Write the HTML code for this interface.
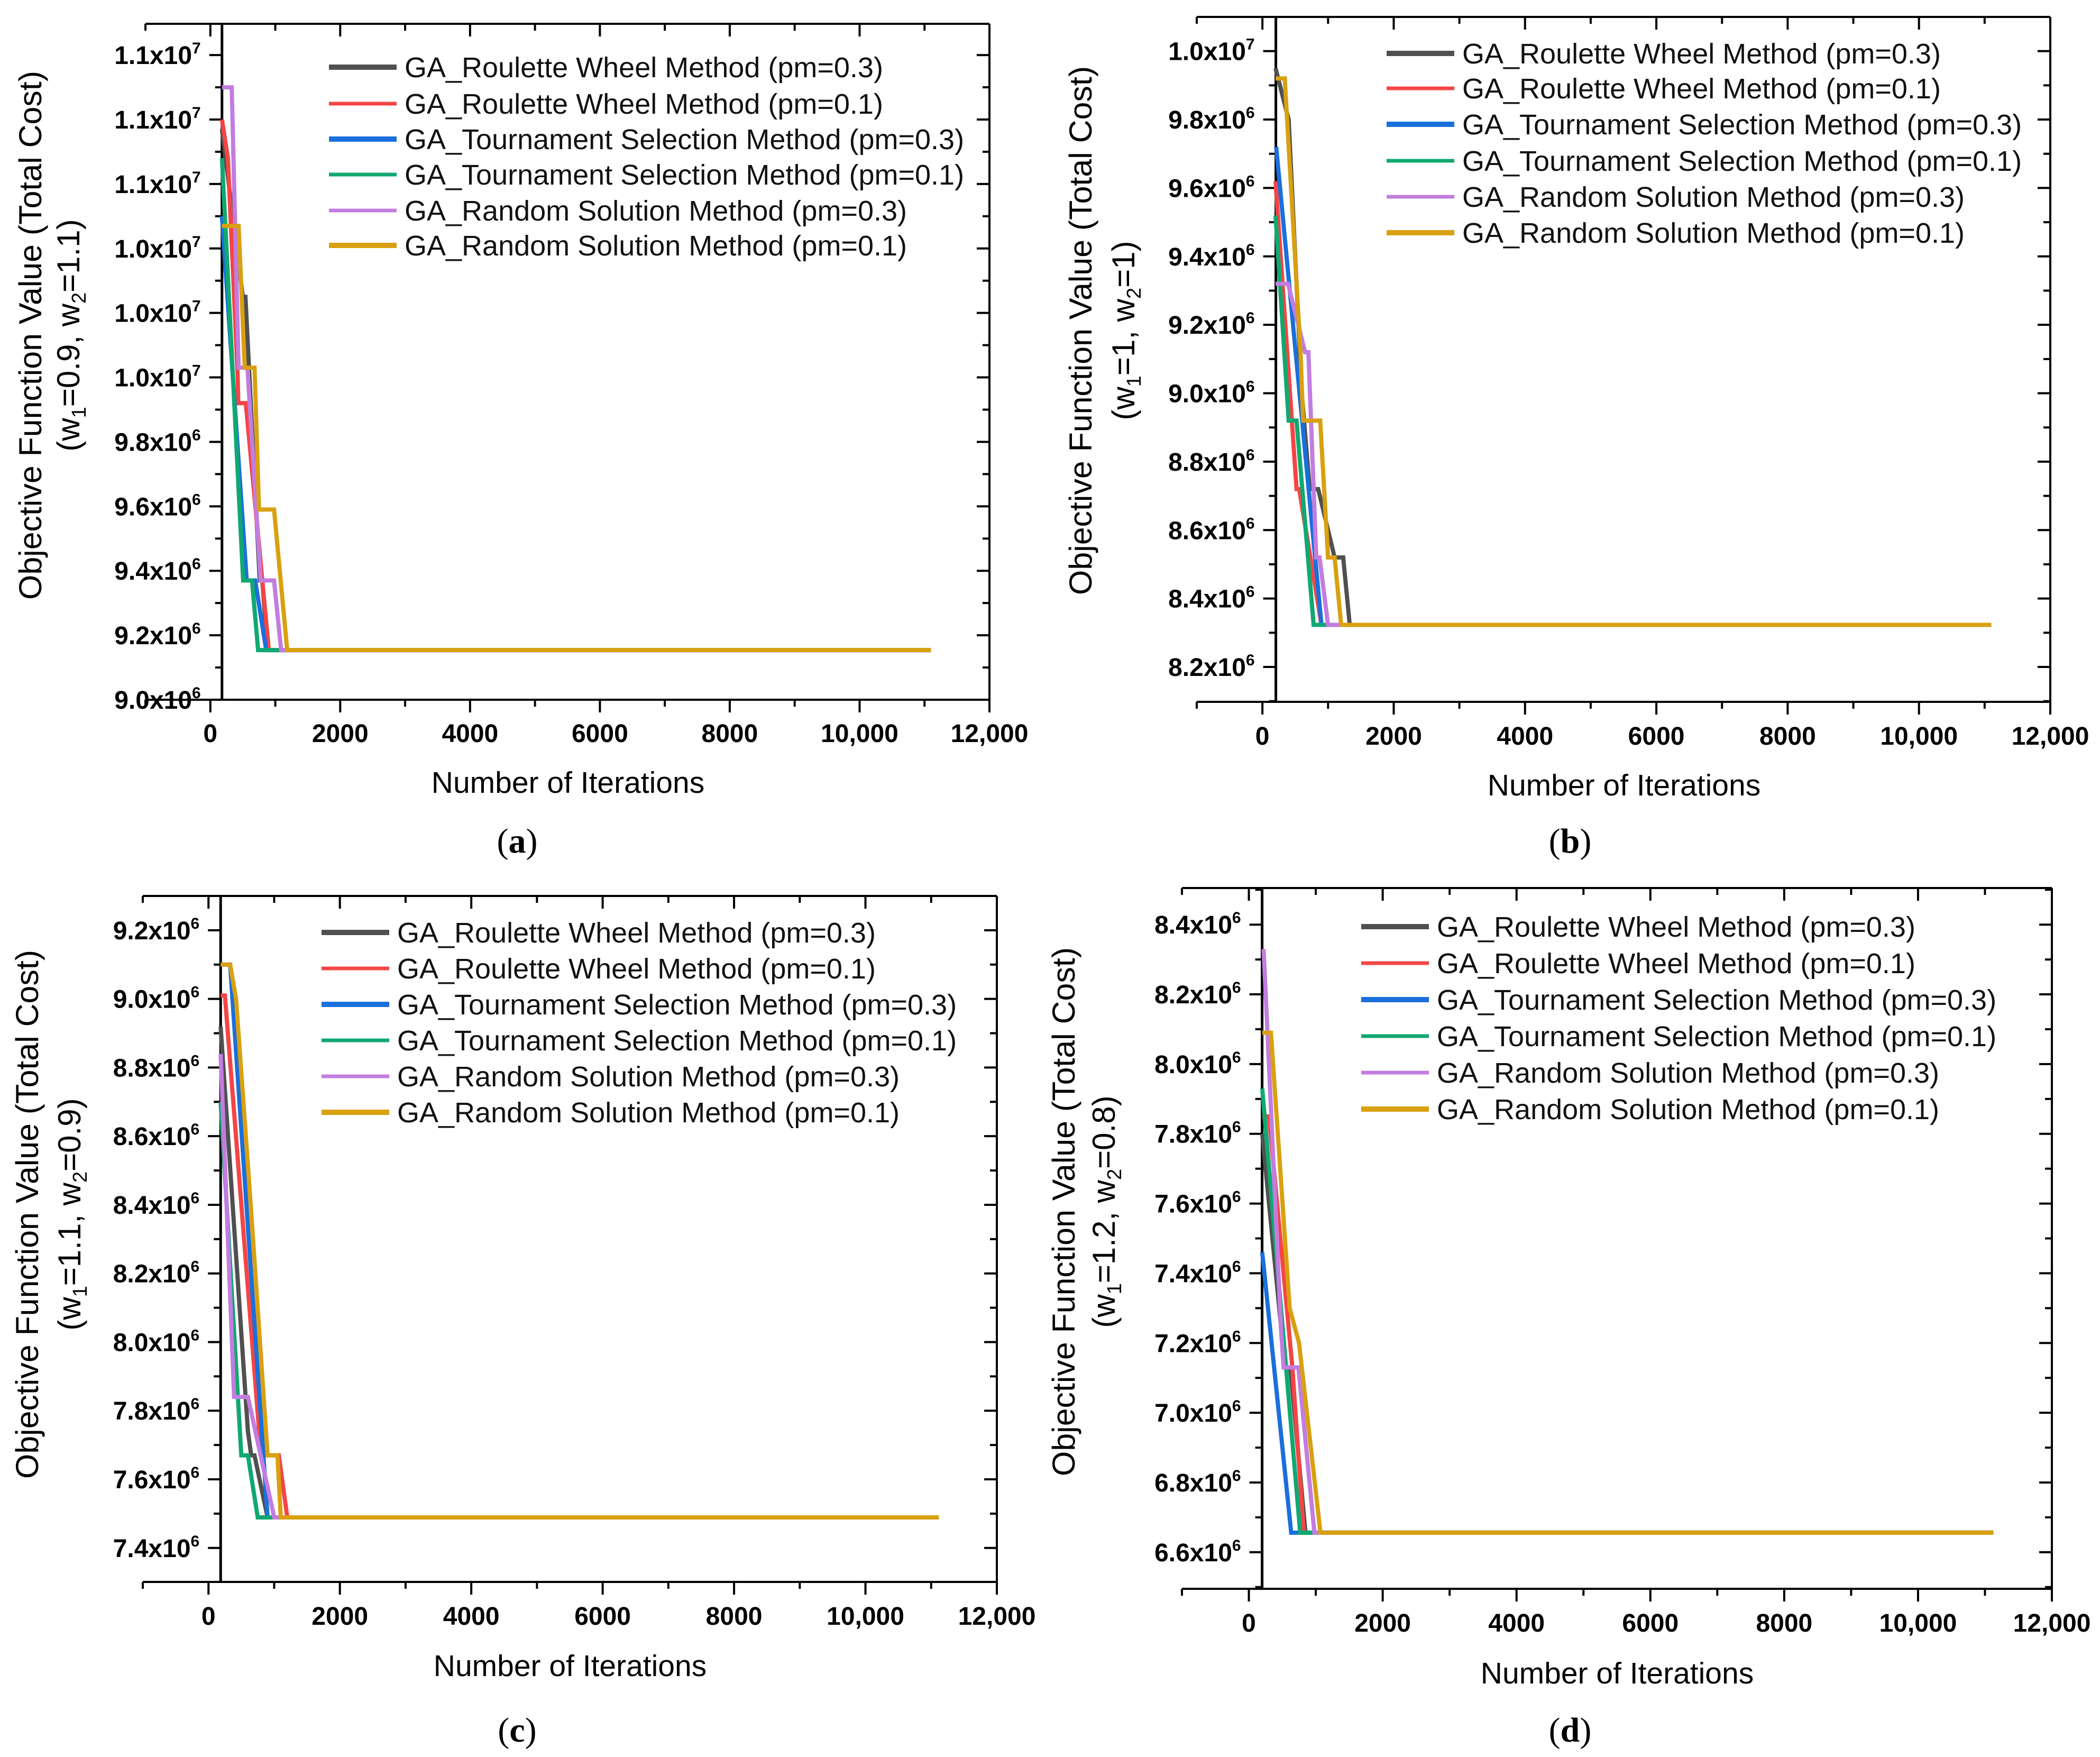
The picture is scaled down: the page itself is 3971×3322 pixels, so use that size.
<!DOCTYPE html>
<html><head><meta charset="utf-8">
<style>
html,body{margin:0;padding:0;background:#fff;}
svg{display:block;font-family:"Liberation Sans",sans-serif;}
</style></head>
<body>
<svg id="fig" width="3971" height="3322" viewBox="0 0 3971 3322" xmlns="http://www.w3.org/2000/svg">
<rect x="0" y="0" width="3971" height="3322" fill="#fff"/>
</svg>
<script>
// ---------- shared data ----------
const seriesNames = ["GA_Roulette Wheel Method (pm=0.3)","GA_Roulette Wheel Method (pm=0.1)","GA_Tournament Selection Method (pm=0.3)","GA_Tournament Selection Method (pm=0.1)","GA_Random Solution Method (pm=0.3)","GA_Random Solution Method (pm=0.1)"];
const xTickValues = [0,2000,4000,6000,8000,10000,12000];
const xTickLabels = ["0","2000","4000","6000","8000","10,000","12,000"];

// panel (a) w1=0.9, w2=1.1  [iteration, value x1e6]
const aRW3 = [[179,10.77],[500,10.25],[540,10.25],[760,9.37],[800,9.37],[880,9.154],[11100,9.154]];
const aRW1 = [[179,10.8],[270,10.68],[420,10.01],[430,9.92],[546,9.92],[800,9.37],[900,9.154],[11100,9.154]];
const aTS3 = [[179,10.5],[560,9.37],[690,9.37],[860,9.154],[11100,9.154]];
const aTS1 = [[179,10.68],[505,9.37],[641,9.37],[736,9.154],[11100,9.154]];
const aRS3 = [[179,10.9],[329,10.9],[435,10.03],[571,10.03],[775,9.37],[981,9.37],[1090,9.154],[11100,9.154]];
const aRS1 = [[179,10.47],[435,10.47],[530,10.03],[680,10.03],[750,9.59],[981,9.59],[1184,9.154],[11100,9.154]];
const aYTicks = [9.0,9.2,9.4,9.6,9.8,10.0,10.2,10.4,10.6,10.8,11.0];
const aYLabels = ["9.0","9.2","9.4","9.6","9.8","1.0","1.0","1.0","1.1","1.1","1.1"];
const aYExps = ["6","6","6","6","6","7","7","7","7","7","7"];

// panel (b) w1=1, w2=1
const bRW3 = [[200,9.95],[400,9.8],[600,9.0],[720,8.72],[850,8.72],[1100,8.52],[1230,8.52],[1330,8.323],[11100,8.323]];
const bRW1 = [[200,9.62],[520,8.72],[560,8.72],[900,8.323],[11100,8.323]];
const bTS3 = [[210,9.72],[900,8.323],[11100,8.323]];
const bTS1 = [[200,9.52],[400,8.92],[520,8.92],[780,8.323],[11100,8.323]];
const bRS3 = [[200,9.32],[390,9.32],[650,9.12],[700,9.12],[820,8.52],[870,8.52],[1000,8.323],[11100,8.323]];
const bRS1 = [[200,9.92],[340,9.92],[580,9.12],[620,8.92],[880,8.92],[1000,8.52],[1100,8.52],[1200,8.323],[11100,8.323]];
const bYTicks = [8.2,8.4,8.6,8.8,9.0,9.2,9.4,9.6,9.8,10.0];
const bYLabels = ["8.2","8.4","8.6","8.8","9.0","9.2","9.4","9.6","9.8","1.0"];
const bYExps = ["6","6","6","6","6","6","6","6","6","7"];

// panel (c) w1=1.1, w2=0.9
const cRW3 = [[185,8.92],[600,7.74],[650,7.67],[700,7.67],[900,7.489],[11115,7.489]];
const cRW1 = [[185,9.01],[250,9.01],[800,7.67],[1070,7.67],[1200,7.489],[11115,7.489]];
const cTS3 = [[185,9.1],[330,9.1],[900,7.489],[11115,7.489]];
const cTS1 = [[185,8.7],[500,7.67],[600,7.67],[750,7.489],[11115,7.489]];
const cRS3 = [[185,8.84],[390,7.84],[600,7.84],[1000,7.489],[11115,7.489]];
const cRS1 = [[185,9.1],[330,9.1],[420,9.0],[650,8.38],[900,7.67],[1050,7.67],[1100,7.489],[11115,7.489]];
const cYTicks = [7.4,7.6,7.8,8.0,8.2,8.4,8.6,8.8,9.0,9.2];
const cYLabels = ["7.4","7.6","7.8","8.0","8.2","8.4","8.6","8.8","9.0","9.2"];
const cYExps = ["6","6","6","6","6","6","6","6","6","6"];

// panel (d) w1=1.2, w2=0.8
const dRW3 = [[200,7.8],[540,7.13],[620,7.13],[846,6.656],[11125,6.656]];
const dRW1 = [[200,7.85],[300,7.85],[650,7.13],[820,6.656],[11125,6.656]];
const dTS3 = [[200,7.46],[633,6.656],[11125,6.656]];
const dTS1 = [[200,7.93],[767,6.656],[11125,6.656]];
const dRS3 = [[220,8.33],[300,8.0],[480,7.24],[520,7.13],[740,7.13],[980,6.656],[11125,6.656]];
const dRS1 = [[200,8.09],[330,8.09],[610,7.3],[750,7.2],[1070,6.656],[11125,6.656]];
const dYTicks = [6.6,6.8,7.0,7.2,7.4,7.6,7.8,8.0,8.2,8.4];
const dYLabels = ["6.6","6.8","7.0","7.2","7.4","7.6","7.8","8.0","8.2","8.4"];
const dYExps = ["6","6","6","6","6","6","6","6","6","6"];

const colors = ["#505050","#f44545","#1a6fdc","#10a870","#c27de0","#d9a010"];
const legendWidths = [10,7,10,7,7,10];

const NS = "http://www.w3.org/2000/svg";
const svg = document.getElementById("fig");
function mk(tag, attrs, parent){
  const e = document.createElementNS(NS, tag);
  for (const k in attrs) e.setAttribute(k, attrs[k]);
  (parent||svg).appendChild(e);
  return e;
}

const panels = [
 {id:"a", series:[aRW3,aRW1,aTS3,aTS1,aRS3,aRS1], yt:aYTicks, yl:aYLabels, ye:aYExps,
  left:275, right:1871, top:45, bottom:1323, yLo:9.0, yHi:11.097, axisIter:179,
  legX:622, legRows:[127,196,263,330,398,464], t1x:78, t2x:150, ty:634, w1:"0.9", w2:"1.1",
  xtY:1403, xlX:1074, xlY:1499, subX:978, subY:1612},
 {id:"b", series:[bRW3,bRW1,bTS3,bTS1,bRS3,bRS1], yt:bYTicks, yl:bYLabels, ye:bYExps,
  left:2263, right:3877, top:32, bottom:1327, yLo:8.098, yHi:10.10, axisIter:205,
  legX:2622, legRows:[101,167,235,304,372,440], t1x:2064, t2x:2145, ty:625, w1:"1", w2:"1",
  xtY:1408, xlX:3071, xlY:1504, subX:2969, subY:1612},
 {id:"c", series:[cRW3,cRW1,cTS3,cTS1,cRS3,cRS1], yt:cYTicks, yl:cYLabels, ye:cYExps,
  left:270, right:1885, top:1694, bottom:2991, yLo:7.301, yHi:9.30, axisIter:185,
  legX:608, legRows:[1763,1831,1899,1967,2035,2103], t1x:72, t2x:152, ty:2296, w1:"1.1", w2:"0.9",
  xtY:3072, xlX:1078, xlY:3169, subX:978, subY:3293},
 {id:"d", series:[dRW3,dRW1,dTS3,dTS1,dRS3,dRS1], yt:dYTicks, yl:dYLabels, ye:dYExps,
  left:2235, right:3880, top:1679, bottom:3004, yLo:6.495, yHi:8.505, axisIter:198,
  legX:2574, legRows:[1752,1821,1890,1959,2028,2097], t1x:2032, t2x:2108, ty:2291, w1:"1.2", w2:"0.8",
  xtY:3085, xlX:3058, xlY:3183, subX:2969, subY:3293}
];

panels.forEach(p => {
  const g = mk("g", {});
  
  
  const xMin = -1000, xMax = 12000;
  const X = v => p.left + (v - xMin) / (xMax - xMin) * (p.right - p.left);
  const Y = v => p.bottom - (v - p.yLo) / (p.yHi - p.yLo) * (p.bottom - p.top);
  const ax = X(p.axisIter);

  // frame lines
  const top = mk("line", {x1:p.left, y1:p.top, x2:p.right, y2:p.top, stroke:"#000", "stroke-width":4}, g);
  
  
  const rt = mk("line", {x1:p.right, y1:p.top, x2:p.right, y2:p.bottom, stroke:"#000", "stroke-width":4}, g);
  
  
  const bt = mk("line", {x1:p.left, y1:p.bottom, x2:p.right, y2:p.bottom, stroke:"#000", "stroke-width":4}, g);
  
  
  const yl = mk("line", {x1:ax, y1:p.top, x2:ax, y2:p.bottom, stroke:"#000", "stroke-width":5}, g);
  
  

  // x ticks (major + minor)
  for (let v = -1000; v <= 12000; v += 1000) {
    const major = (v % 2000 === 0);
    const L = major ? 24 : 13;
    mk("line", {x1:X(v), y1:p.bottom, x2:X(v), y2:p.bottom + L, stroke:"#000", "stroke-width":4}, g);
    mk("line", {x1:X(v), y1:p.top, x2:X(v), y2:p.top + L, stroke:"#000", "stroke-width":4}, g);
  }
  xTickValues.forEach((v, i) => {
    const t = mk("text", {x:X(v), y:p.xtY, "text-anchor":"middle", "font-size":48, "font-weight":"bold"}, g);
    t.textContent = xTickLabels[i];
    
    
  });

  // y ticks
  const step = 0.1;
  const first = p.yt[0];
  for (let k = -2; k <= (p.yt.length) * 2 + 2; k++) {
    const v = first + k * step;
    if (v < p.yLo - 1e-6 || v > p.yHi + 1e-6) continue;
    const major = (k % 2 === 0);
    const L = major ? 24 : 13;
    mk("line", {x1:ax - L, y1:Y(v), x2:ax, y2:Y(v), stroke:"#000", "stroke-width":4}, g);
    mk("line", {x1:p.right - L, y1:Y(v), x2:p.right, y2:Y(v), stroke:"#000", "stroke-width":4}, g);
  }
  p.yt.forEach((v, i) => {
    const t = mk("text", {x:ax - 40, y:Y(v) + 17, "text-anchor":"end", "font-size":48, "font-weight":"bold"}, g);
    
    
    t.appendChild(document.createTextNode(p.yl[i] + "x10"));
    const s = mk("tspan", {dy:-20, "font-size":30}, t);
    s.textContent = p.ye[i];
  });

  // series
  p.series.forEach((pts, si) => {
    const d = pts.map((q, j) => (j ? "L" : "M") + X(q[0]).toFixed(1) + "," + Y(q[1]).toFixed(1)).join("");
    const path = mk("path", {d:d, fill:"none", stroke:colors[si], "stroke-width":8, "stroke-linejoin":"miter"}, g);
    
    
  });

  // legend
  seriesNames.forEach((n, si) => {
    const y = p.legRows[si];
    const ln = mk("line", {x1:p.legX, y1:y, x2:p.legX + 128, y2:y, stroke:colors[si], "stroke-width":legendWidths[si]}, g);
    
    
    const t = mk("text", {x:p.legX + 143, y:y + 19, "font-size":54, fill:"#111"}, g);
    t.textContent = n;
    
    
  });

  // y title
  const t1 = mk("text", {x:0, y:0, transform:"translate(" + p.t1x + "," + p.ty + ") rotate(-90)", "text-anchor":"middle", "font-size":60, textLength:1000, lengthAdjust:"spacingAndGlyphs"}, g);
  t1.textContent = "Objective Function Value (Total Cost)";
  
  
  const t2 = mk("text", {x:0, y:0, transform:"translate(" + p.t2x + "," + p.ty + ") rotate(-90)", "text-anchor":"middle", "font-size":60}, g);
  
  
  t2.appendChild(document.createTextNode("(w"));
  let s1 = mk("tspan", {"font-size":38, dy:12}, t2); s1.textContent = "1";
  let r1 = mk("tspan", {dy:-12}, t2); r1.textContent = "=" + p.w1 + ", w";
  let s2 = mk("tspan", {"font-size":38, dy:12}, t2); s2.textContent = "2";
  let r2 = mk("tspan", {dy:-12}, t2); r2.textContent = "=" + p.w2 + ")";

  // x title
  const xt = mk("text", {x:p.xlX, y:p.xlY, "text-anchor":"middle", "font-size":57}, g);
  xt.textContent = "Number of Iterations";
  
  

  // sub label
  const sl = mk("text", {x:p.subX, y:p.subY, "text-anchor":"middle", "font-size":66, "font-family":"Liberation Serif, serif"}, g);
  
  
  sl.appendChild(document.createTextNode("("));
  const b = mk("tspan", {"font-weight":"bold"}, sl); b.textContent = p.id;
  sl.appendChild(document.createTextNode(")"));
});
</script>
</body></html>
